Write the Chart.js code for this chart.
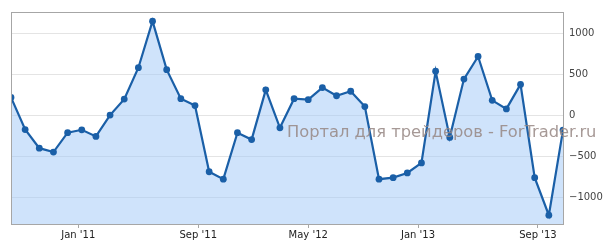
<!DOCTYPE html>
<html>
<head>
<meta charset="utf-8">
<script src="https://cdn.jsdelivr.net/npm/chart.js@4"></script>
<style>
  html, body { margin: 0; padding: 0; background: #fff; }
  #wrap { width: 603px; height: 246px; }
</style>
</head>
<body>
<div id="wrap"><canvas id="grafico"></canvas></div>
<script>
// valores (um ponto por período, eixo ordinal)
const valores = [220, -173, -401, -449, -212, -176, -257, 4, 199, 583,
                 1152, 559, 204, 120, -689, -780, -212, -296, 312, -152,
                 204, 192, 340, 240, 295, 108, -780, -761, -704, -581,
                 540, -269, 444, 720, 184, 79, 379, -761, -1220, -180];

// rótulos do eixo x e sua posição (em índices de ponto)
const rotulosX = ["Jan '11", "Sep '11", "May '12", "Jan '13", "Sep '13"];
const posRotulosX = [4.75, 13.23, 21, 28.76, 37.23];

const ticksY = [-1000, -500, 0, 500, 1000];

const marcaDagua = 'Портал для трейдеров - ForTrader.ru';

// moldura cinza em volta da área do gráfico + marca d'água
const molduraPlugin = {
    id: 'moldura',
    afterDraw(chart) {
        const { ctx, chartArea: a } = chart;
        ctx.save();
        ctx.strokeStyle = '#a6a6a6';
        ctx.lineWidth = 1;
        ctx.strokeRect(Math.round(a.left) + 0.5, Math.round(a.top) + 0.5,
                       Math.round(a.right - a.left), Math.round(a.bottom - a.top));
        // ajusta o tamanho da fonte para ocupar ~309px de largura
        ctx.font = '17px "DejaVu Sans"';
        const tam = 17 * 309 / ctx.measureText(marcaDagua).width;
        ctx.font = tam.toFixed(1) + 'px "DejaVu Sans"';
        ctx.fillStyle = 'rgba(150, 135, 132, 0.85)';
        ctx.textBaseline = 'middle';
        ctx.fillText(marcaDagua, 287, 133);
        ctx.restore();
    }
};

function criarGrafico() {
    const ctx = document.getElementById('grafico').getContext('2d');

    new Chart(ctx, {
        type: 'line',
        data: {
            datasets: [{
                data: valores.map((v, i) => ({ x: i, y: v })),
                borderColor: '#1a5fa7',
                borderWidth: 2.2,
                backgroundColor: 'rgba(160, 200, 248, 0.5)',
                fill: 'start',
                pointRadius: 3.4,
                pointBackgroundColor: '#1a5fa7',
                pointBorderWidth: 0,
                tension: 0
            }]
        },
        options: {
            responsive: true,
            maintainAspectRatio: false,
            animation: false,
            layout: { padding: { left: 11, top: 8, right: 0, bottom: 0 } },
            plugins: {
                legend: { display: false },
                tooltip: { enabled: false }
            },
            scales: {
                x: {
                    type: 'linear',
                    min: 0,
                    max: valores.length - 1,
                    afterBuildTicks: (axis) => {
                        axis.ticks = posRotulosX.map(v => ({ value: v }));
                    },
                    afterFit: (axis) => { axis.height = 22; },
                    ticks: {
                        autoSkip: false,
                        maxRotation: 0,
                        padding: 1,
                        color: '#222',
                        font: { family: 'DejaVu Sans', size: 10 },
                        callback: (v) => {
                            const i = posRotulosX.indexOf(v);
                            return i >= 0 ? rotulosX[i] : '';
                        }
                    },
                    grid: {
                        drawOnChartArea: false,
                        drawTicks: true,
                        tickLength: 4,
                        color: '#a6a6a6'
                    },
                    border: { display: false }
                },
                y: {
                    position: 'right',
                    min: -1328,
                    max: 1264,
                    afterBuildTicks: (axis) => {
                        axis.ticks = ticksY.map(v => ({ value: v }));
                    },
                    afterFit: (axis) => { axis.width = 40; },
                    ticks: {
                        padding: 6,
                        crossAlign: 'near',
                        color: '#444',
                        font: { family: 'DejaVu Sans', size: 10 },
                        callback: (v) => (v < 0 ? '−' + Math.abs(v) : String(v))
                    },
                    grid: {
                        color: '#e4e4e4',
                        drawTicks: false
                    },
                    border: { display: false }
                }
            }
        },
        plugins: [molduraPlugin]
    });
}

criarGrafico();
</script>
</body>
</html>
